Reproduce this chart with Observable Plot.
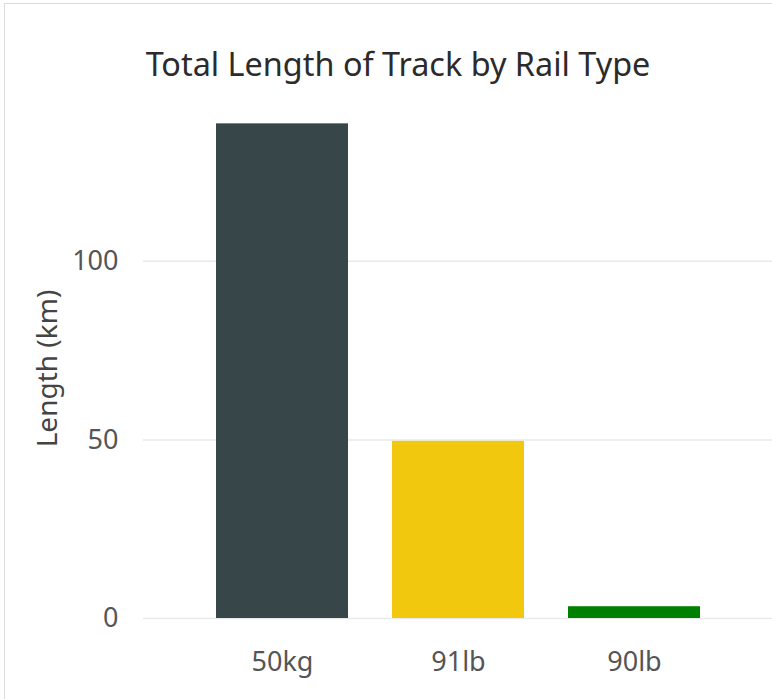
<!DOCTYPE html>
<html>
<head>
<meta charset="utf-8">
<script src="https://cdn.jsdelivr.net/npm/d3@7"></script>
<script src="https://cdn.jsdelivr.net/npm/@observablehq/plot@0.6"></script>
<style>
  html, body { margin: 0; padding: 0; background: #fff; }
  body { width: 772px; height: 699px; position: relative; overflow: hidden; font-family: "Noto Sans", "Open Sans", sans-serif; }
  #card { position: absolute; left: 4px; top: 3px; width: 900px; height: 900px; border: 1.5px solid #dcdcdc; box-sizing: border-box; }
  #title { position: absolute; left: 398px; transform: translateX(-50%); top: 47px; font-size: 32.4px; line-height: 1; color: #2b2b2b; white-space: nowrap; }
  #chart { position: absolute; left: 0; top: 0; }
  #chart svg { background: transparent; }
</style>
</head>
<body>
<div id="card"></div>
<div id="title">Total Length of Track by Rail Type</div>
<div id="chart"></div>
<script>
const railTypes = ["50kg", "91lb", "90lb"];
const lengthsKm = [138.5, 49.6, 3.3];
const yTicks = [0, 50, 100];
const barColors = ["#374649", "#F2C80F", "#008000"];
const yLabel = "Length (km)";

const data = railTypes.map((t, i) => ({type: t, length: lengthsKm[i]}));

const chart = Plot.plot({
  width: 772,
  height: 699,
  marginLeft: 143,
  marginRight: 0,
  marginTop: 118,
  marginBottom: 81,
  style: {fontFamily: "'Noto Sans', 'Open Sans', sans-serif", background: "transparent"},
  x: {domain: railTypes, paddingInner: 0.25, paddingOuter: 0.41, axis: null},
  y: {domain: [0, 140], axis: null},
  color: {domain: railTypes, range: barColors},
  marks: [
    Plot.ruleY(yTicks, {stroke: "#e9e9e9", strokeWidth: 1.5}),
    Plot.barY(data, {x: "type", y: "length", fill: "type"}),
    Plot.axisY({ticks: yTicks, tickSize: 0, tickPadding: 25, fontSize: 27, label: null, color: "#555"}),
    Plot.axisX({tickSize: 0, tickPadding: 33, fontSize: 27, label: null, color: "#555"}),
    Plot.text([yLabel], {frameAnchor: "left", textAnchor: "middle", rotate: -90, dx: -95, fontSize: 28, fill: "#444", lineAnchor: "middle"})
  ]
});
document.getElementById("chart").appendChild(chart);
</script>
</body>
</html>
